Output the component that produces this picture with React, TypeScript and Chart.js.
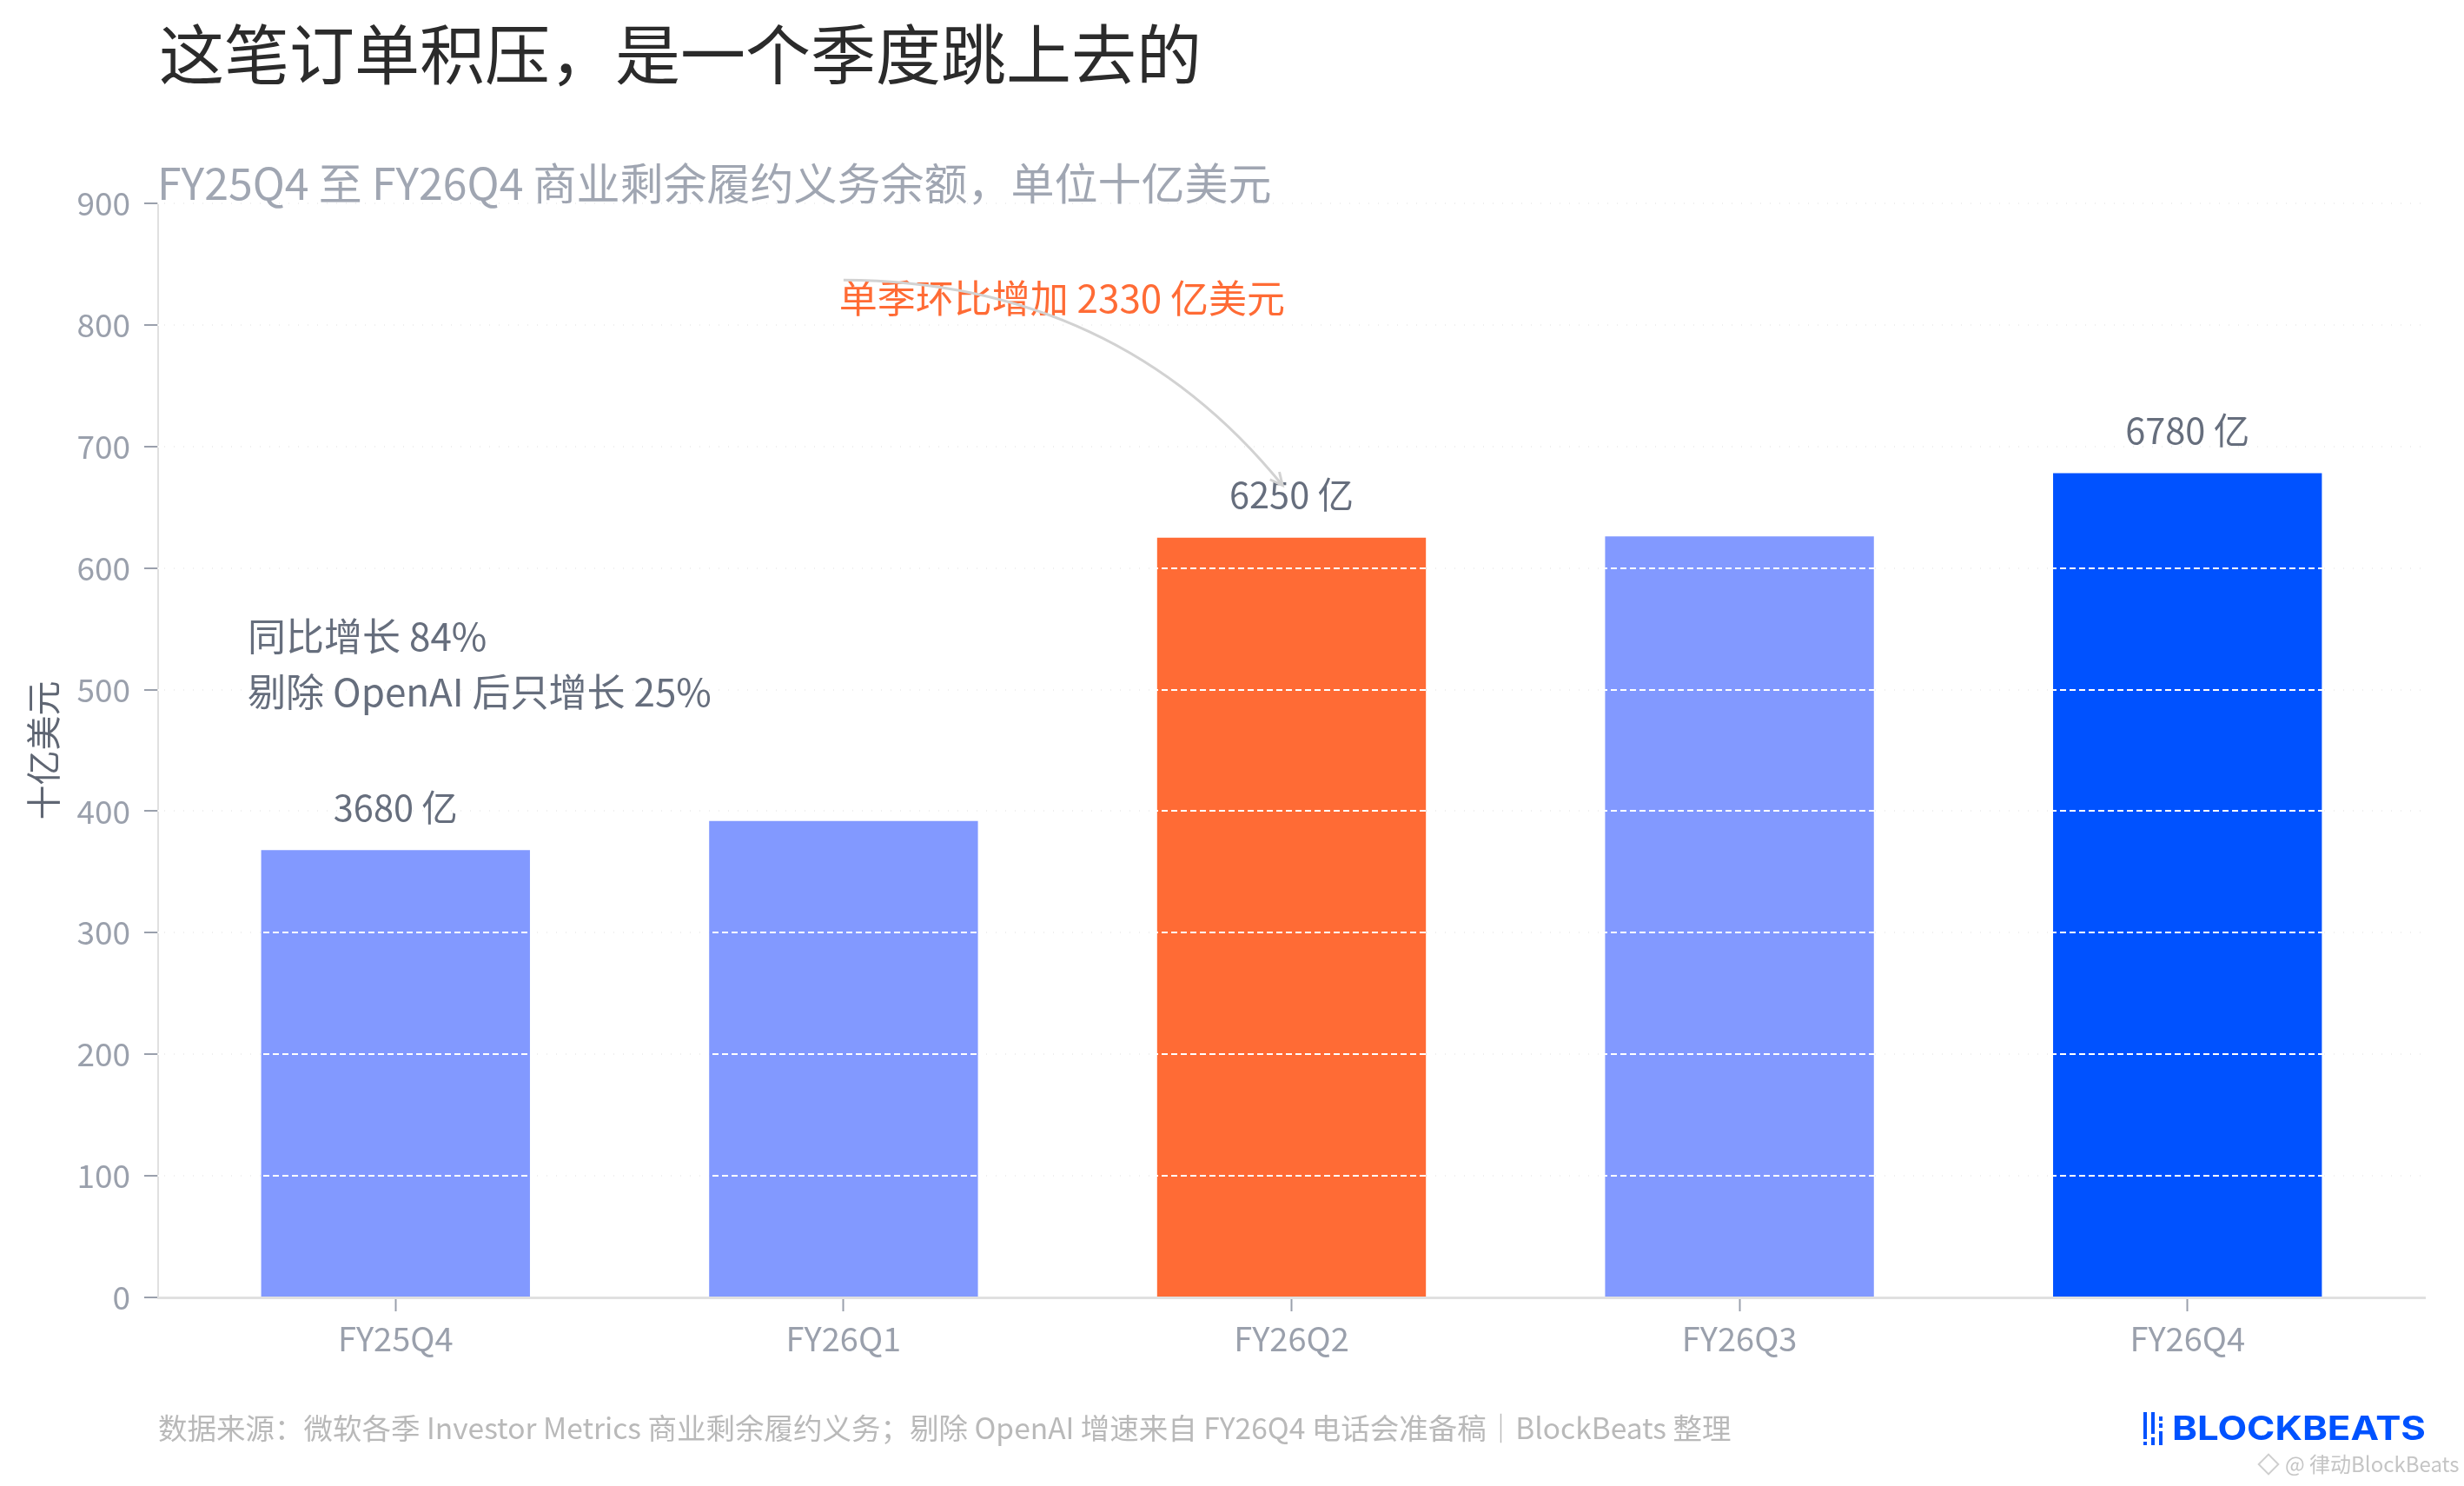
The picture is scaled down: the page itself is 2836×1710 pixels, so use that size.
import { useEffect, useRef } from 'react';
import { Chart, registerables, type Plugin } from 'chart.js';

Chart.register(...registerables);

const FONT = '"Noto Sans CJK SC", "Noto Sans", sans-serif';

// data (单位：十亿美元)
const quarters = ['FY25Q4', 'FY26Q1', 'FY26Q2', 'FY26Q3', 'FY26Q4'];
const rpoValues = [368, 392, 625, 626, 678];
const barColors = ['#8299FF', '#8299FF', '#FF6B35', '#8299FF', '#0052FF'];
const barLabels = ['3680 亿', '', '6250 亿', '', '6780 亿'];
const yMin = 0;
const yMax = 900;
const yStep = 100;

const TITLE = '这笔订单积压，是一个季度跳上去的';
const SUBTITLE = 'FY25Q4 至 FY26Q4 商业剩余履约义务余额，单位十亿美元';
const Y_TITLE = '十亿美元';
const FOOTER = '数据来源：微软各季 Investor Metrics 商业剩余履约义务；剔除 OpenAI 增速来自 FY26Q4 电话会准备稿｜BlockBeats 整理';

// notes in data coordinates
const noteTexts = ['同比增长 84%', '剔除 OpenAI 后只增长 25%', '单季环比增加 2330 亿美元'];
const noteX = [-0.33, -0.33, 0.99];
const noteY = [544, 498, 822];
const noteColors = ['#666e7d', '#666e7d', '#FF6B35'];
const arrowFrom = [1.0, 837];
const arrowBend = [1.61, 836];
const arrowTo = [1.98, 668];

const decor: Plugin<'bar'> = {
  id: 'decor',
  afterDraw(chart) {
    const { ctx } = chart;
    const xs = chart.scales.x;
    const ys = chart.scales.y;
    const px = (v: number) => xs.getPixelForValue(v);
    const py = (v: number) => ys.getPixelForValue(v);
    ctx.save();
    ctx.textAlign = 'left';
    ctx.textBaseline = 'middle';

    // title + subtitle
    ctx.fillStyle = '#2b2b2b';
    ctx.font = `75px ${FONT}`;
    ctx.fillText(TITLE, 183, 62);
    ctx.fillStyle = '#a0a6b2';
    ctx.font = `50px ${FONT}`;
    ctx.fillText(SUBTITLE, 181, 211);

    // bar value labels
    const meta = chart.getDatasetMeta(0);
    ctx.textAlign = 'center';
    ctx.font = `41.5px ${FONT}`;
    ctx.fillStyle = '#666e7d';
    meta.data.forEach((bar, i) => {
      if (!barLabels[i]) return;
      ctx.fillText(barLabels[i], bar.x, bar.y - 49);
    });

    // notes
    ctx.textAlign = 'left';
    ctx.font = `44px ${FONT}`;
    noteTexts.forEach((t, i) => {
      ctx.fillStyle = noteColors[i];
      ctx.fillText(t, px(noteX[i]), py(noteY[i]));
    });

    // curved arrow
    const x0 = px(arrowFrom[0]), y0 = py(arrowFrom[1]);
    const cx = px(arrowBend[0]), cy = py(arrowBend[1]);
    const x1 = px(arrowTo[0]), y1 = py(arrowTo[1]);
    ctx.strokeStyle = '#d2d2d2';
    ctx.lineWidth = 3;
    ctx.beginPath();
    ctx.moveTo(x0, y0);
    ctx.quadraticCurveTo(cx, cy, x1, y1);
    ctx.stroke();
    const ang = Math.atan2(y1 - cy, x1 - cx);
    const head = 16;
    ctx.beginPath();
    ctx.moveTo(x1 - head * Math.cos(ang - 0.45), y1 - head * Math.sin(ang - 0.45));
    ctx.lineTo(x1, y1);
    ctx.lineTo(x1 - head * Math.cos(ang + 0.45), y1 - head * Math.sin(ang + 0.45));
    ctx.stroke();

    // footer
    ctx.fillStyle = '#b9b9b9';
    ctx.font = `33.5px ${FONT}`;
    ctx.fillText(FOOTER, 182, 1643);

    // logo
    ctx.fillStyle = '#0052FF';
    const bars: [number, number, number][] = [
      [2467, 1625, 1656], [2467, 1659, 1663],
      [2476, 1625, 1650], [2476, 1654, 1663],
      [2485, 1630, 1635], [2485, 1638, 1643], [2485, 1647, 1663],
    ];
    bars.forEach(([bx, t, b]) => ctx.fillRect(bx, t, 4, b - t));
    ctx.font = `bold 38px Inter, "DejaVu Sans", sans-serif`;
    const logo = 'BLOCKBEATS';
    const w = ctx.measureText(logo).width;
    ctx.save();
    ctx.translate(2500, 1646);
    ctx.scale(292 / w, 1);
    ctx.fillText(logo, 0, 0);
    ctx.restore();

    // watermark
    ctx.strokeStyle = '#cfcfcf';
    ctx.lineWidth = 2;
    ctx.save();
    ctx.translate(2611, 1685);
    ctx.rotate(Math.PI / 4);
    ctx.strokeRect(-8, -8, 16, 16);
    ctx.restore();
    ctx.fillStyle = '#c5c5c5';
    ctx.font = `24px ${FONT}`;
    ctx.fillText('@ 律动BlockBeats', 2630, 1685);
    ctx.restore();
  },
};

export default function App() {
  const canvasRef = useRef<HTMLCanvasElement>(null);
  const chartRef = useRef<Chart<'bar'> | null>(null);

  useEffect(() => {
    if (!canvasRef.current) return;
    chartRef.current = new Chart(canvasRef.current, {
      type: 'bar',
      data: {
        datasets: [{
          data: quarters.map((_, i) => ({ x: i, y: rpoValues[i] })),
          backgroundColor: barColors,
          borderWidth: 0,
          barPercentage: 0.6,
          categoryPercentage: 1,
        }],
      },
      options: {
        animation: false,
        responsive: true,
        maintainAspectRatio: false,
        layout: { padding: { top: 234, right: 45, bottom: 0, left: 0 } },
        plugins: { legend: { display: false }, tooltip: { enabled: false } },
        scales: {
          x: {
            type: 'linear',
            min: -0.53,
            max: 4.53,
            offset: false,
            afterBuildTicks: (s) => { s.ticks = quarters.map((_, i) => ({ value: i })); },
            afterFit: (s) => { s.height = 217; },
            ticks: {
              callback: (v) => quarters[v as number] ?? '',
              color: '#9aa0ac',
              font: { family: FONT, size: 38 },
              padding: 9,
              maxRotation: 0,
              autoSkip: false,
            },
            grid: { offset: false, drawOnChartArea: false, drawTicks: true, tickLength: 16, tickColor: '#9aa0ac', tickWidth: 2 },
            border: { display: true, color: '#e0e0e0', width: 3 },
          },
          y: {
            position: 'left',
            min: yMin,
            max: yMax,
            afterFit: (s) => { s.width = 182; },
            ticks: {
              stepSize: yStep,
              color: '#9aa0ac',
              font: { family: FONT, size: 37 },
              padding: 16,
            },
            grid: { color: '#efefef', lineWidth: 2, tickLength: 16, tickColor: '#9aa0ac', tickWidth: 2, tickBorderDash: [] },
            border: { display: true, color: '#e0e0e0', width: 2, dash: [7, 4] },
            title: {
              display: true,
              text: Y_TITLE,
              color: '#5f6673',
              font: { family: FONT, size: 40 },
              padding: { top: 26, bottom: 0 },
            },
          },
          yOver: {
            position: 'left',
            min: yMin,
            max: yMax,
            afterFit: (s) => { s.width = 0; },
            ticks: { stepSize: yStep, display: false },
            grid: {
              z: 1,
              lineWidth: 2,
              drawTicks: false,
              color: (c) => (c.tick && c.tick.value === 0 ? 'rgba(0,0,0,0)' : '#ffffff'),
            },
            border: { display: false, dash: [7, 4] },
          },
        },
      },
      plugins: [decor],
    });
    return () => { chartRef.current?.destroy(); chartRef.current = null; };
  }, []);

  return (
    <div style={{ position: 'fixed', left: 0, top: 0, width: 2836, height: 1710, background: '#ffffff' }}>
      <canvas ref={canvasRef} />
    </div>
  );
}
